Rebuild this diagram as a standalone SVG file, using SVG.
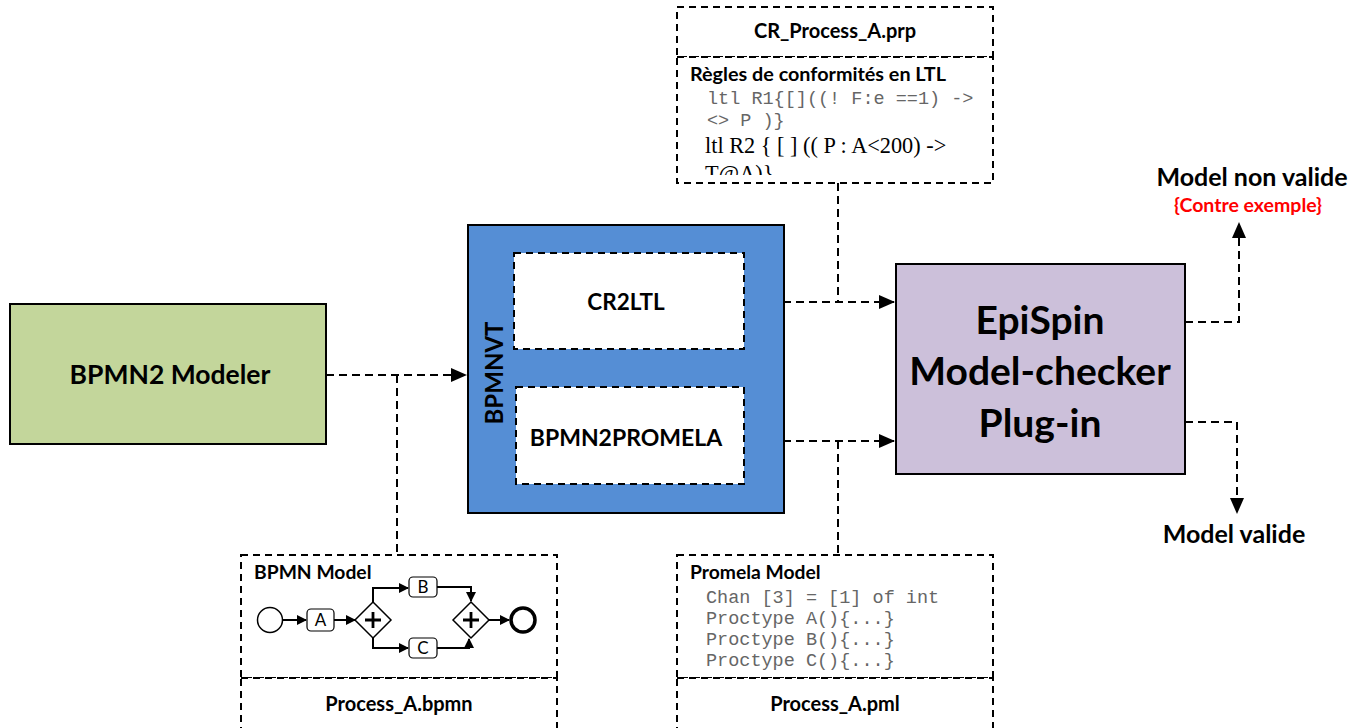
<svg xmlns="http://www.w3.org/2000/svg" width="1364" height="728" viewBox="0 0 1364 728">
<style>
.b{font-family:Lato,"Liberation Sans",sans-serif;font-weight:bold;fill:#000}
.m{font-family:"Liberation Mono",monospace;fill:#666;font-size:18.5px}
.d{fill:#fff;stroke:#000;stroke-width:2;stroke-dasharray:7,5}
.c{fill:none;stroke:#000;stroke-width:2;stroke-dasharray:8,5}
.t{fill:none;stroke:#000;stroke-width:2}
.g{fill:#fff;stroke:#000;stroke-width:1.2}
.n{font-family:Lato,sans-serif;font-size:17px;text-anchor:middle}
</style>
<defs>
<marker id="ah" markerWidth="10" markerHeight="10" refX="9" refY="5" orient="auto" markerUnits="userSpaceOnUse" viewBox="0 0 10 10"><path d="M0,0 L10,5 L0,10 z" fill="#000"/></marker>
<marker id="ah2" markerWidth="16" markerHeight="16" refX="15" refY="8" orient="auto" markerUnits="userSpaceOnUse" viewBox="0 0 16 16"><path d="M0,1 L16,8 L0,15 z" fill="#000"/></marker>
<clipPath id="cp"><rect x="677" y="57" width="316" height="118"/></clipPath>
</defs>

<g id="connectors">
<path class="c" d="M326,375 H466" marker-end="url(#ah2)"/>
<path class="c" d="M397,375 V555"/>
<path class="c" d="M744,302 H894" marker-end="url(#ah2)"/>
<path class="c" d="M838,183 V302"/>
<path class="c" d="M744,441 H894" marker-end="url(#ah2)"/>
<path class="c" d="M838,441 V555"/>
<path class="c" d="M1185,322 H1239 V223" marker-end="url(#ah2)"/>
<path class="c" d="M1185,422 H1237 V513" marker-end="url(#ah2)"/>
</g>

<g id="bpmn2modeler">
<rect x="10" y="304" width="316" height="140" fill="#c3d69b" stroke="#000" stroke-width="2"/>
<text class="b" x="170" y="384" font-size="26.5" text-anchor="middle">BPMN2 Modeler</text>
</g>

<g id="bpmnvt">
<rect x="468" y="225" width="316" height="288" fill="#558ed5" stroke="#000" stroke-width="2"/>
<text class="b" x="0" y="0" font-size="24" text-anchor="middle" transform="translate(503,373) rotate(-90)">BPMNVT</text>
</g>

<g id="cr2ltl">
<rect class="d" x="514" y="253" width="230" height="96"/>
<text class="b" x="626" y="310" font-size="22.5" text-anchor="middle">CR2LTL</text>
</g>

<g id="bpmn2promela">
<rect class="d" x="516" y="387" width="228" height="97"/>
<text class="b" x="626" y="446" font-size="23" text-anchor="middle">BPMN2PROMELA</text>
</g>

<g id="epispin">
<rect x="896" y="264" width="289" height="210" fill="#ccc0da" stroke="#000" stroke-width="2"/>
<text class="b" x="1040" y="334" font-size="39" text-anchor="middle">EpiSpin</text>
<text class="b" x="1040" y="385" font-size="39" text-anchor="middle">Model-checker</text>
<text class="b" x="1040" y="437" font-size="39" text-anchor="middle">Plug-in</text>
</g>

<g id="model-non-valide">
<text class="b" x="1252" y="186" font-size="25" text-anchor="middle">Model non valide</text>
<text class="b" x="1248" y="212" font-size="19.5" text-anchor="middle" style="fill:#ff0000">{Contre exemple}</text>
</g>

<g id="model-valide">
<text class="b" x="1234" y="543" font-size="25" text-anchor="middle">Model valide</text>
</g>

<g id="cr-process">
<rect class="d" x="677" y="7" width="316" height="50"/>
<text class="b" x="835" y="38" font-size="20" text-anchor="middle">CR_Process_A.prp</text>
<rect class="d" x="677" y="57" width="316" height="126"/>
<g clip-path="url(#cp)">
<text class="b" x="690" y="81" font-size="19.8">Règles de conformités en LTL</text>
<text class="m" x="707" y="104">ltl R1{[]((! F:e ==1) -&gt;</text>
<text class="m" x="707" y="126">&lt;&gt; P )}</text>
<text x="705" y="153" font-family="Liberation Serif,serif" font-size="22.3">ltl R2 { [ ] (( P : A&lt;200) -&gt;</text>
<text x="705" y="181" font-family="Liberation Serif,serif" font-size="22.3">T@A)}</text>
</g>
</g>

<g id="bpmn-model">
<rect class="d" x="241" y="555" width="316" height="123"/>
<text class="b" x="254" y="579" font-size="19.3">BPMN Model</text>
<circle cx="270" cy="620" r="12.5" fill="#fff" stroke="#000" stroke-width="1.5"/>
<path class="t" d="M282,620 H306" marker-end="url(#ah)"/>
<rect class="g" x="307" y="609" width="27" height="22" rx="4"/>
<text class="n" x="320.5" y="626">A</text>
<path class="t" d="M334,620 H355" marker-end="url(#ah)"/>
<path d="M373,602 L391,620 L373,638 L355,620 Z" fill="#fff" stroke="#000" stroke-width="1.5"/>
<path d="M373,612 V628 M365,620 H381" stroke="#000" stroke-width="2.8"/>
<path class="t" d="M373,602 V588 H408" marker-end="url(#ah)"/>
<path class="t" d="M373,638 V648 H408" marker-end="url(#ah)"/>
<rect class="g" x="409" y="577" width="28" height="20" rx="4"/>
<text class="n" x="423" y="593">B</text>
<rect class="g" x="409" y="638" width="28" height="20" rx="4"/>
<text class="n" x="423" y="654">C</text>
<path class="t" d="M437,587 H471 V601" marker-end="url(#ah)"/>
<path class="t" d="M437,648 H469 V639" marker-end="url(#ah)"/>
<path d="M471,602 L489,620 L471,638 L453,620 Z" fill="#fff" stroke="#000" stroke-width="1.5"/>
<path d="M471,612 V628 M463,620 H479" stroke="#000" stroke-width="2.8"/>
<path class="t" d="M489,620 H509" marker-end="url(#ah)"/>
<circle cx="523" cy="620" r="12" fill="#fff" stroke="#000" stroke-width="3.5"/>
<rect class="d" x="241" y="678" width="316" height="60"/>
<text class="b" x="399" y="711" font-size="20" text-anchor="middle">Process_A.bpmn</text>
</g>

<g id="promela-model">
<rect class="d" x="677" y="555" width="316" height="123"/>
<text class="b" x="690" y="579" font-size="19.3">Promela Model</text>
<text class="m" x="706" y="603">Chan [3] = [1] of int</text>
<text class="m" x="706" y="624">Proctype A(){...}</text>
<text class="m" x="706" y="645">Proctype B(){...}</text>
<text class="m" x="706" y="666">Proctype C(){...}</text>
<rect class="d" x="677" y="678" width="316" height="60"/>
<text class="b" x="835" y="711" font-size="20" text-anchor="middle">Process_A.pml</text>
</g>
</svg>
